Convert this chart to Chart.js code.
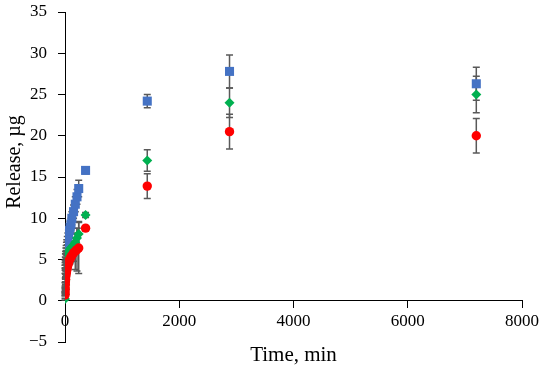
<!DOCTYPE html>
<html>
<head>
<meta charset="utf-8">
<script src="https://cdn.jsdelivr.net/npm/chart.js@4.4.1/dist/chart.umd.min.js"></script>
<style>
  html, body { margin: 0; padding: 0; background: #fff; }
  #wrap { width: 550px; height: 367px; }
</style>
</head>
<body>
<div id="wrap"><canvas id="grafico" width="550" height="367"></canvas></div>
<script>
// ====== DADOS ======
const tempos = [0, 1, 2, 3, 5, 7, 10, 15, 20, 25, 30, 40, 50, 60, 75, 90, 105, 120, 150, 180, 210, 240, 360, 1440, 2880, 7200];

const azul = [3.6, 4.0, 4.3, 4.6, 5.0, 5.3, 5.6, 6.0, 6.3, 6.6, 6.9, 7.3, 7.7, 8.0, 8.5, 8.9, 9.3, 10.0, 10.8, 11.7, 12.6, 13.6, 15.8, 24.2, 27.8, 26.3];
const azulErro = [0.3, 0.3, 0.3, 0.3, 0.3, 0.4, 0.4, 0.4, 0.4, 0.5, 0.5, 0.5, 0.5, 0.6, 0.6, 0.7, 0.7, 0.8, 0.8, 0.9, 0.9, 1.0, 0.4, 0.8, 2.0, 2.0];

const verde = [0.2, 0.8, 1.4, 1.9, 2.5, 3.0, 3.5, 4.0, 4.4, 4.7, 5.0, 5.3, 5.6, 5.9, 6.1, 6.3, 6.4, 6.5, 6.8, 7.1, 7.6, 8.1, 10.4, 17.0, 24.0, 25.0];
const verdeErro = [0.1, 0.2, 0.2, 0.3, 0.3, 0.3, 0.3, 0.4, 0.4, 0.4, 0.5, 0.5, 0.5, 0.5, 0.6, 0.6, 0.6, 0.7, 0.8, 1.0, 1.2, 1.5, 0.3, 1.3, 1.8, 2.2];

const vermelho = [0.7, 1.0, 1.3, 1.6, 2.0, 2.3, 2.6, 3.0, 3.3, 3.5, 3.7, 4.0, 4.3, 4.6, 4.9, 5.1, 5.3, 5.5, 5.8, 6.0, 6.2, 6.4, 8.8, 13.9, 20.5, 20.0];
const vermelhoErro = [0.1, 0.1, 0.2, 0.2, 0.2, 0.3, 0.3, 0.3, 0.3, 0.4, 0.4, 0.4, 0.5, 0.5, 0.5, 0.6, 0.6, 0.7, 1.0, 2.2, 2.6, 3.1, 0.3, 1.5, 2.1, 2.1];

const fonte = 'Liberation Serif';

function pontos(valores) {
  return tempos.map((t, i) => ({ x: t, y: valores[i] }));
}

// barras de erro desenhadas antes dos marcadores
const barrasErro = {
  id: 'barrasErro',
  beforeDatasetsDraw(chart) {
    const { ctx, scales: { x, y } } = chart;
    ctx.save();
    ctx.strokeStyle = '#595959';
    ctx.lineWidth = 1.5;
    chart.data.datasets.forEach(ds => {
      ds.erros.forEach((e, i) => {
        const px = x.getPixelForValue(ds.data[i].x);
        const y1 = y.getPixelForValue(ds.data[i].y + e);
        const y2 = y.getPixelForValue(ds.data[i].y - e);
        ctx.beginPath();
        ctx.moveTo(px, y1); ctx.lineTo(px, y2);
        ctx.moveTo(px - 3.5, y1); ctx.lineTo(px + 3.5, y1);
        ctx.moveTo(px - 3.5, y2); ctx.lineTo(px + 3.5, y2);
        ctx.stroke();
      });
    });
    ctx.restore();
  }
};

new Chart(document.getElementById('grafico'), {
  type: 'scatter',
  data: {
    datasets: [
      { data: pontos(azul), erros: azulErro, order: 3, pointStyle: 'rect', pointRadius: 6.4, backgroundColor: '#4472C4', borderWidth: 0 },
      { data: pontos(verde), erros: verdeErro, order: 2, pointStyle: 'rectRot', pointRadius: 5, backgroundColor: '#00B050', borderWidth: 0 },
      { data: pontos(vermelho), erros: vermelhoErro, order: 1, pointStyle: 'circle', pointRadius: 4.7, backgroundColor: '#FF0000', borderWidth: 0 }
    ]
  },
  options: {
    responsive: false,
    animation: false,
    layout: { padding: { left: 0, right: 28, top: 12, bottom: 25 } },
    plugins: { legend: { display: false }, tooltip: { enabled: false } },
    scales: {
      x: {
        type: 'linear',
        position: { y: 0 },
        min: 0, max: 8000,
        ticks: { stepSize: 2000, color: '#000', padding: 4, maxRotation: 0, font: { family: fonte, size: 17 }, callback: v => String(v) },
        grid: { drawOnChartArea: false, tickLength: 7, color: '#000' },
        border: { color: '#000', width: 1 },
        title: { display: true, text: 'Time, min', color: '#000', font: { family: fonte, size: 21 }, padding: { top: 7, bottom: 0 } }
      },
      y: {
        min: -5, max: 35,
        afterFit: s => { s.width = 65; s.paddingTop = 8; s.paddingBottom = 8; },
        ticks: {
          stepSize: 5, color: '#000', padding: 11, font: { family: fonte, size: 17 },
          callback: v => String(v).replace('-', '\u2212')
        },
        grid: { drawOnChartArea: false, tickLength: 7, color: '#000' },
        border: { color: '#000', width: 1 },
        title: { display: true, text: '      Release, µg', color: '#000', font: { family: fonte, size: 20 }, padding: { top: 3, bottom: 0 } }
      }
    }
  },
  plugins: [barrasErro]
});
</script>
</body>
</html>
